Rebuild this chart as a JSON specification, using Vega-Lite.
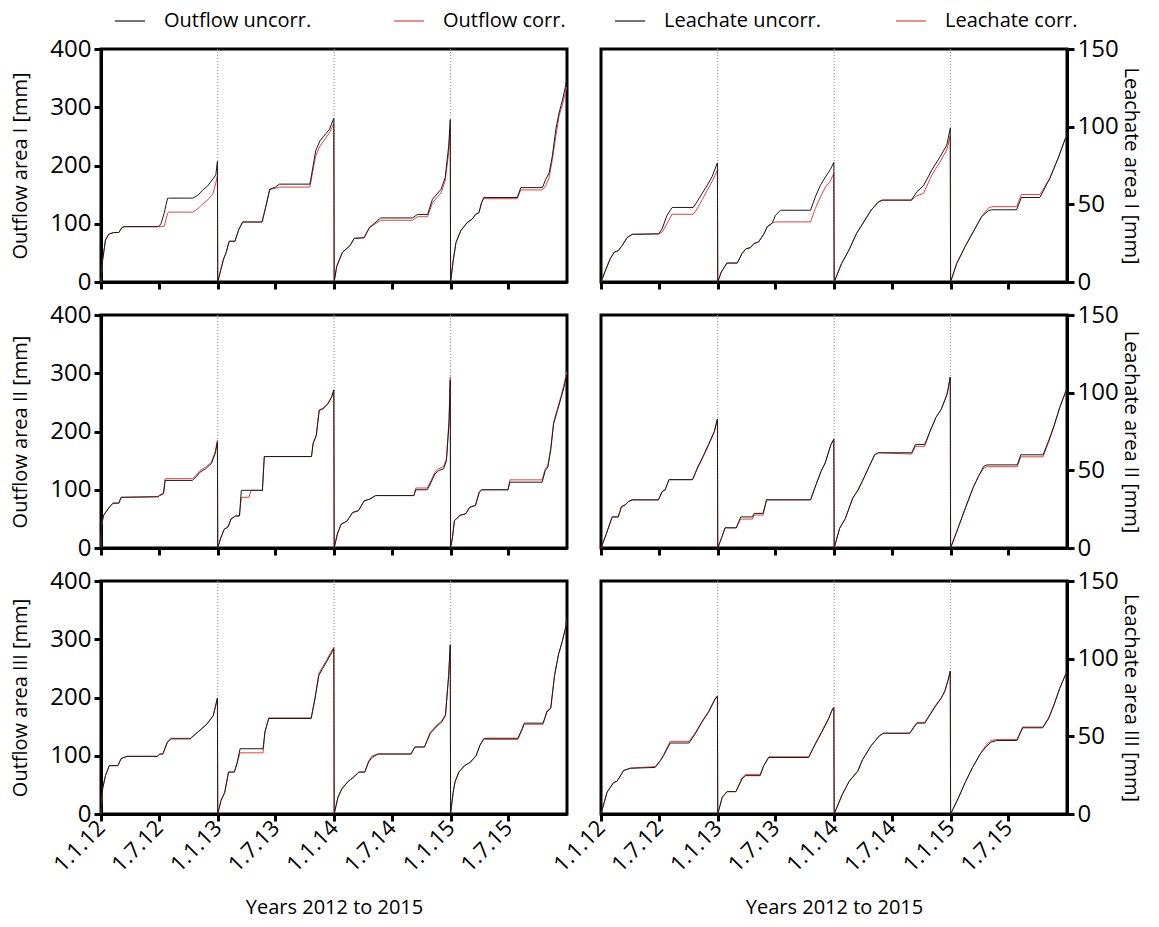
{
  "$schema": "https://vega.github.io/schema/vega-lite/v6.json",
  "background": "white",
  "padding": {"left": 9, "top": 3, "right": 6, "bottom": 5},
  "config": {
    "font": "Open Sans",
    "view": {"stroke": "black", "strokeWidth": 3},
    "axis": {"domainColor": "black", "domainWidth": 3, "tickColor": "black", "tickWidth": 3, "tickSize": 7, "labelColor": "black", "labelFont": "Open Sans", "labelFontSize": 24, "titleColor": "black", "titleFont": "Open Sans", "titleFontSize": 20, "titleFontWeight": "normal", "grid": false, "labelPadding": 3},
    "axisLeft": {"titlePadding": 19},
    "axisRight": {"titlePadding": 2},
    "axisX": {"labelFontSize": 22, "labelFlush": false, "labelOverlap": false},
    "legend": {"orient": "top", "direction": "horizontal", "symbolType": "stroke", "symbolSize": 900, "symbolStrokeWidth": 1.2, "symbolOffset": 13, "labelFont": "Open Sans", "labelFontSize": 20, "labelColor": "black", "labelOffset": 18, "labelLimit": 300, "offset": 18}
  },
  "datasets": {
    "years": [{"d": "2013-01-01"}, {"d": "2014-01-01"}, {"d": "2015-01-01"}],
    "OI": [
      {"d":"2012-01-01","u":0,"c":0},{"d":"2012-01-06","u":37,"c":37},{"d":"2012-01-15","u":72,"c":72},{"d":"2012-01-25","u":82,"c":82},{"d":"2012-02-10","u":85,"c":85},{"d":"2012-02-26","u":85,"c":85},{"d":"2012-03-06","u":93,"c":93},{"d":"2012-03-13","u":95,"c":95},{"d":"2012-06-29","u":95,"c":95},{"d":"2012-07-07","u":100,"c":95},{"d":"2012-07-18","u":120,"c":96},{"d":"2012-07-23","u":133,"c":109},{"d":"2012-07-28","u":144,"c":118},{"d":"2012-07-31","u":144,"c":120},{"d":"2012-10-15","u":144,"c":120},{"d":"2012-10-31","u":149,"c":126},{"d":"2012-11-15","u":158,"c":134},{"d":"2012-12-01","u":165,"c":141},{"d":"2012-12-17","u":177,"c":152},{"d":"2012-12-26","u":184,"c":170},{"d":"2012-12-31","u":207,"c":183},
      {"d":"2013-01-01","u":0,"c":0},{"d":"2013-01-11","u":22,"c":22},{"d":"2013-01-19","u":39,"c":39},{"d":"2013-01-27","u":50,"c":50},{"d":"2013-02-06","u":70,"c":70},{"d":"2013-02-24","u":70,"c":70},{"d":"2013-03-08","u":90,"c":90},{"d":"2013-03-20","u":103,"c":103},{"d":"2013-05-20","u":103,"c":103},{"d":"2013-06-01","u":130,"c":130},{"d":"2013-06-13","u":159,"c":159},{"d":"2013-07-01","u":163,"c":161},{"d":"2013-07-13","u":168,"c":163},{"d":"2013-10-17","u":168,"c":163},{"d":"2013-10-27","u":199,"c":193},{"d":"2013-11-04","u":225,"c":216},{"d":"2013-11-17","u":242,"c":233},{"d":"2013-11-29","u":250,"c":242},{"d":"2013-12-17","u":262,"c":256},{"d":"2013-12-31","u":281,"c":272},
      {"d":"2014-01-01","u":0,"c":0},{"d":"2014-01-09","u":27,"c":27},{"d":"2014-01-27","u":51,"c":51},{"d":"2014-02-19","u":62,"c":62},{"d":"2014-03-05","u":75,"c":75},{"d":"2014-04-05","u":76,"c":76},{"d":"2014-04-21","u":93,"c":93},{"d":"2014-05-27","u":110,"c":106},{"d":"2014-09-04","u":110,"c":106},{"d":"2014-09-19","u":116,"c":112},{"d":"2014-10-21","u":116,"c":112},{"d":"2014-11-05","u":142,"c":136},{"d":"2014-12-02","u":159,"c":153},{"d":"2014-12-15","u":179,"c":173},{"d":"2014-12-26","u":233,"c":222},{"d":"2014-12-31","u":279,"c":265},
      {"d":"2015-01-01","u":0,"c":0},{"d":"2015-01-09","u":36,"c":36},{"d":"2015-01-18","u":68,"c":68},{"d":"2015-02-02","u":88,"c":88},{"d":"2015-02-22","u":102,"c":102},{"d":"2015-03-10","u":108,"c":108},{"d":"2015-03-20","u":116,"c":116},{"d":"2015-03-31","u":119,"c":119},{"d":"2015-04-08","u":136,"c":136},{"d":"2015-04-15","u":145,"c":143},{"d":"2015-07-29","u":145,"c":143},{"d":"2015-08-09","u":162,"c":158},{"d":"2015-10-16","u":162,"c":158},{"d":"2015-10-26","u":176,"c":165},{"d":"2015-11-06","u":187,"c":179},{"d":"2015-11-16","u":216,"c":210},{"d":"2015-11-27","u":262,"c":250},{"d":"2015-12-07","u":290,"c":285},{"d":"2015-12-18","u":313,"c":305},{"d":"2015-12-28","u":338,"c":328},{"d":"2015-12-31","u":347,"c":335}
    ],
    "LI": [
      {"d":"2012-01-01","u":0,"c":0},{"d":"2012-01-15","u":7.5,"c":7.5},{"d":"2012-01-30","u":15,"c":15},{"d":"2012-02-12","u":19.3,"c":19.3},{"d":"2012-02-23","u":20,"c":20},{"d":"2012-03-08","u":23.6,"c":23.6},{"d":"2012-03-23","u":28.6,"c":28.6},{"d":"2012-04-08","u":30.7,"c":30.7},{"d":"2012-06-30","u":31,"c":31},{"d":"2012-07-11","u":34.4,"c":32.2},{"d":"2012-07-26","u":43,"c":37.6},{"d":"2012-08-11","u":48,"c":43.6},{"d":"2012-10-16","u":48,"c":43.6},{"d":"2012-10-28","u":51.6,"c":47},{"d":"2012-11-13","u":57,"c":53},{"d":"2012-11-29","u":62.3,"c":59},{"d":"2012-12-14","u":67.7,"c":64.5},{"d":"2012-12-31","u":76.7,"c":72},
      {"d":"2013-01-01","u":0,"c":0},{"d":"2013-01-12","u":6.4,"c":6.4},{"d":"2013-01-30","u":12.2,"c":12.2},{"d":"2013-03-03","u":12.2,"c":12.2},{"d":"2013-03-18","u":18.3,"c":18.3},{"d":"2013-03-31","u":21.5,"c":21.5},{"d":"2013-04-13","u":22,"c":22},{"d":"2013-04-24","u":24.7,"c":24.7},{"d":"2013-05-09","u":25.8,"c":25.8},{"d":"2013-05-26","u":31,"c":31},{"d":"2013-06-05","u":35.5,"c":35.5},{"d":"2013-06-21","u":38,"c":38},{"d":"2013-07-01","u":43,"c":38.7},{"d":"2013-07-17","u":46.2,"c":38.7},{"d":"2013-10-19","u":46.2,"c":38.7},{"d":"2013-11-03","u":54.8,"c":47.3},{"d":"2013-11-19","u":62.3,"c":54.8},{"d":"2013-12-05","u":67.7,"c":61.2},{"d":"2013-12-20","u":72.4,"c":65},{"d":"2013-12-31","u":77,"c":70},
      {"d":"2014-01-01","u":0,"c":0},{"d":"2014-01-24","u":11.8,"c":11.8},{"d":"2014-02-16","u":20.4,"c":20.4},{"d":"2014-03-12","u":31.2,"c":31.2},{"d":"2014-04-04","u":38.7,"c":38.7},{"d":"2014-04-27","u":46.3,"c":46.3},{"d":"2014-05-20","u":51.6,"c":51.6},{"d":"2014-06-01","u":52.7,"c":52.7},{"d":"2014-08-31","u":52.7,"c":52.7},{"d":"2014-09-17","u":58,"c":55.5},{"d":"2014-10-08","u":62,"c":57},{"d":"2014-11-03","u":72,"c":68.8},{"d":"2014-11-29","u":80.6,"c":77.4},{"d":"2014-12-20","u":88,"c":85},{"d":"2014-12-31","u":99,"c":94},
      {"d":"2015-01-01","u":0,"c":0},{"d":"2015-01-20","u":11.8,"c":11.8},{"d":"2015-02-15","u":22.6,"c":22.6},{"d":"2015-03-13","u":32.3,"c":32.3},{"d":"2015-04-08","u":42,"c":42},{"d":"2015-04-29","u":45.8,"c":47.5},{"d":"2015-05-10","u":46.5,"c":48.5},{"d":"2015-07-27","u":46.5,"c":48.5},{"d":"2015-08-11","u":54.4,"c":56.3},{"d":"2015-10-08","u":54.4,"c":56.3},{"d":"2015-11-08","u":66.7,"c":66.7},{"d":"2015-12-04","u":79.6,"c":79.6},{"d":"2015-12-27","u":92.5,"c":92.5},{"d":"2015-12-31","u":93.5,"c":93.5}
    ],
    "OII": [
      {"d":"2012-01-01","u":0,"c":0},{"d":"2012-01-03","u":40,"c":40},{"d":"2012-01-09","u":56,"c":56},{"d":"2012-01-27","u":70,"c":70},{"d":"2012-02-08","u":77,"c":77},{"d":"2012-02-26","u":77,"c":77},{"d":"2012-03-04","u":87,"c":87},{"d":"2012-06-27","u":88,"c":88},{"d":"2012-07-03","u":90,"c":91},{"d":"2012-07-15","u":93,"c":95},{"d":"2012-07-20","u":116,"c":119},{"d":"2012-10-13","u":116,"c":119},{"d":"2012-10-25","u":122,"c":125},{"d":"2012-11-06","u":130,"c":133},{"d":"2012-11-24","u":136,"c":139},{"d":"2012-12-12","u":145,"c":147},{"d":"2012-12-24","u":162,"c":165},{"d":"2012-12-31","u":182,"c":185},
      {"d":"2013-01-01","u":0,"c":0},{"d":"2013-01-09","u":15,"c":15},{"d":"2013-01-21","u":32,"c":32},{"d":"2013-02-02","u":36,"c":36},{"d":"2013-02-12","u":50,"c":50},{"d":"2013-02-26","u":55,"c":55},{"d":"2013-03-10","u":55,"c":55},{"d":"2013-03-16","u":99,"c":87},{"d":"2013-04-09","u":99,"c":87},{"d":"2013-04-15","u":99,"c":99},{"d":"2013-05-21","u":99,"c":99},{"d":"2013-05-27","u":157,"c":157},{"d":"2013-10-22","u":157,"c":157},{"d":"2013-10-27","u":179,"c":180},{"d":"2013-11-06","u":193,"c":194},{"d":"2013-11-15","u":236,"c":237},{"d":"2013-11-27","u":239,"c":240},{"d":"2013-12-12","u":247,"c":248},{"d":"2013-12-24","u":259,"c":260},{"d":"2013-12-31","u":271,"c":272},
      {"d":"2014-01-01","u":0,"c":0},{"d":"2014-01-11","u":24,"c":24},{"d":"2014-01-23","u":41,"c":41},{"d":"2014-02-10","u":46,"c":46},{"d":"2014-02-28","u":61,"c":61},{"d":"2014-03-18","u":64,"c":64},{"d":"2014-04-05","u":81,"c":81},{"d":"2014-04-23","u":84,"c":84},{"d":"2014-05-11","u":90,"c":90},{"d":"2014-09-08","u":90,"c":90},{"d":"2014-09-14","u":100,"c":103},{"d":"2014-10-20","u":100,"c":103},{"d":"2014-11-01","u":113,"c":116},{"d":"2014-11-13","u":127,"c":130},{"d":"2014-11-25","u":133,"c":136},{"d":"2014-12-10","u":136,"c":140},{"d":"2014-12-19","u":150,"c":153},{"d":"2014-12-27","u":213,"c":219},{"d":"2014-12-31","u":288,"c":294},
      {"d":"2015-01-01","u":0,"c":0},{"d":"2015-01-07","u":18,"c":18},{"d":"2015-01-13","u":47,"c":47},{"d":"2015-01-31","u":56,"c":56},{"d":"2015-02-18","u":59,"c":59},{"d":"2015-03-02","u":70,"c":70},{"d":"2015-03-20","u":73,"c":73},{"d":"2015-04-01","u":96,"c":96},{"d":"2015-04-09","u":100,"c":100},{"d":"2015-06-30","u":100,"c":100},{"d":"2015-07-06","u":113,"c":117},{"d":"2015-10-15","u":113,"c":117},{"d":"2015-10-25","u":133,"c":136},{"d":"2015-11-02","u":139,"c":142},{"d":"2015-11-11","u":168,"c":171},{"d":"2015-11-20","u":213,"c":216},{"d":"2015-12-02","u":236,"c":239},{"d":"2015-12-14","u":259,"c":262},{"d":"2015-12-23","u":277,"c":282},{"d":"2015-12-31","u":297,"c":302}
    ],
    "LII": [
      {"d":"2012-01-01","u":0,"c":0},{"d":"2012-01-18","u":9.3,"c":9.3},{"d":"2012-02-05","u":20,"c":20},{"d":"2012-02-24","u":20,"c":20},{"d":"2012-03-05","u":26.6,"c":26.6},{"d":"2012-03-16","u":27.7,"c":27.7},{"d":"2012-03-28","u":30,"c":30},{"d":"2012-04-08","u":31,"c":31},{"d":"2012-06-29","u":31,"c":31},{"d":"2012-07-11","u":36.4,"c":36.4},{"d":"2012-07-20","u":37.4,"c":37.4},{"d":"2012-08-01","u":44,"c":44},{"d":"2012-10-14","u":44,"c":44},{"d":"2012-10-29","u":51.5,"c":51},{"d":"2012-11-16","u":59,"c":58.5},{"d":"2012-12-03","u":66.7,"c":66},{"d":"2012-12-21","u":75,"c":74.5},{"d":"2012-12-31","u":83,"c":83},
      {"d":"2013-01-01","u":0,"c":0},{"d":"2013-01-13","u":6.5,"c":6.5},{"d":"2013-01-24","u":13,"c":13},{"d":"2013-02-28","u":13,"c":13},{"d":"2013-03-14","u":20,"c":18.6},{"d":"2013-04-20","u":20,"c":18.6},{"d":"2013-04-25","u":22.3,"c":21.2},{"d":"2013-05-23","u":22.3,"c":21.2},{"d":"2013-06-03","u":31,"c":31},{"d":"2013-10-19","u":31,"c":31},{"d":"2013-11-05","u":40.7,"c":40.7},{"d":"2013-11-21","u":49.4,"c":49.4},{"d":"2013-12-04","u":54.8,"c":54.8},{"d":"2013-12-22","u":66.7,"c":66.7},{"d":"2013-12-31","u":70,"c":70},
      {"d":"2014-01-01","u":0,"c":0},{"d":"2014-01-18","u":12.6,"c":12.6},{"d":"2014-02-05","u":19,"c":19},{"d":"2014-02-28","u":32,"c":32},{"d":"2014-03-17","u":37.4,"c":37.4},{"d":"2014-04-04","u":45,"c":45},{"d":"2014-04-21","u":52.6,"c":52.6},{"d":"2014-05-08","u":60,"c":60},{"d":"2014-05-20","u":61.3,"c":61.3},{"d":"2014-09-01","u":61.3,"c":60.5},{"d":"2014-09-13","u":66.7,"c":65.5},{"d":"2014-10-12","u":66.7,"c":65.5},{"d":"2014-10-29","u":75.3,"c":75.3},{"d":"2014-11-16","u":84,"c":84},{"d":"2014-12-03","u":89.4,"c":89.4},{"d":"2014-12-21","u":99,"c":99},{"d":"2014-12-31","u":110,"c":110},
      {"d":"2015-01-01","u":0,"c":0},{"d":"2015-01-24","u":12.6,"c":12.6},{"d":"2015-02-16","u":25.5,"c":25.5},{"d":"2015-03-12","u":38.5,"c":38.5},{"d":"2015-03-29","u":46,"c":46},{"d":"2015-04-15","u":52.6,"c":51.5},{"d":"2015-04-25","u":53.5,"c":52.3},{"d":"2015-07-29","u":53.5,"c":52.3},{"d":"2015-08-09","u":60,"c":58.7},{"d":"2015-10-18","u":60,"c":58.7},{"d":"2015-11-04","u":68.8,"c":68},{"d":"2015-11-21","u":78.6,"c":78},{"d":"2015-12-09","u":90.5,"c":90},{"d":"2015-12-31","u":102.4,"c":102.4}
    ],
    "OIII": [
      {"d":"2012-01-01","u":0,"c":0},{"d":"2012-01-06","u":43,"c":43},{"d":"2012-01-15","u":66,"c":66},{"d":"2012-01-27","u":83,"c":83},{"d":"2012-02-23","u":83,"c":83},{"d":"2012-03-04","u":95,"c":95},{"d":"2012-03-22","u":99,"c":99},{"d":"2012-06-26","u":99,"c":99},{"d":"2012-07-03","u":103,"c":103},{"d":"2012-07-13","u":103,"c":103},{"d":"2012-07-27","u":123,"c":124},{"d":"2012-08-08","u":129,"c":130},{"d":"2012-10-07","u":129,"c":130},{"d":"2012-10-25","u":138,"c":138},{"d":"2012-11-11","u":146,"c":146},{"d":"2012-11-29","u":155,"c":155},{"d":"2012-12-18","u":169,"c":169},{"d":"2012-12-31","u":199,"c":199},
      {"d":"2013-01-01","u":0,"c":0},{"d":"2013-01-11","u":23,"c":23},{"d":"2013-01-23","u":37,"c":37},{"d":"2013-01-29","u":55,"c":55},{"d":"2013-02-04","u":72,"c":72},{"d":"2013-02-22","u":72,"c":72},{"d":"2013-03-02","u":86,"c":86},{"d":"2013-03-12","u":112,"c":105},{"d":"2013-05-23","u":112,"c":105},{"d":"2013-05-29","u":141,"c":141},{"d":"2013-06-10","u":164,"c":165},{"d":"2013-10-21","u":164,"c":165},{"d":"2013-11-02","u":198,"c":200},{"d":"2013-11-14","u":238,"c":241},{"d":"2013-11-26","u":250,"c":253},{"d":"2013-12-08","u":261,"c":264},{"d":"2013-12-20","u":273,"c":276},{"d":"2013-12-31","u":284,"c":286},
      {"d":"2014-01-01","u":0,"c":0},{"d":"2014-01-13","u":29,"c":29},{"d":"2014-01-25","u":43,"c":43},{"d":"2014-02-12","u":55,"c":55},{"d":"2014-03-02","u":63,"c":63},{"d":"2014-03-20","u":72,"c":72},{"d":"2014-04-07","u":72,"c":72},{"d":"2014-04-19","u":89,"c":91},{"d":"2014-05-01","u":98,"c":100},{"d":"2014-05-19","u":103,"c":103},{"d":"2014-08-30","u":103,"c":103},{"d":"2014-09-11","u":115,"c":115},{"d":"2014-10-11","u":115,"c":115},{"d":"2014-10-29","u":138,"c":140},{"d":"2014-11-16","u":149,"c":151},{"d":"2014-12-04","u":158,"c":160},{"d":"2014-12-16","u":169,"c":171},{"d":"2014-12-26","u":238,"c":238},{"d":"2014-12-31","u":290,"c":290},
      {"d":"2015-01-01","u":0,"c":0},{"d":"2015-01-09","u":37,"c":37},{"d":"2015-01-15","u":55,"c":55},{"d":"2015-01-27","u":72,"c":72},{"d":"2015-02-14","u":83,"c":83},{"d":"2015-03-04","u":89,"c":89},{"d":"2015-03-22","u":100,"c":100},{"d":"2015-04-03","u":118,"c":118},{"d":"2015-04-15","u":129,"c":129},{"d":"2015-04-25","u":130,"c":128},{"d":"2015-07-31","u":130,"c":128},{"d":"2015-08-13","u":146,"c":144},{"d":"2015-08-20","u":156,"c":154},{"d":"2015-10-18","u":156,"c":154},{"d":"2015-10-30","u":175,"c":177},{"d":"2015-11-11","u":181,"c":182},{"d":"2015-11-23","u":238,"c":238},{"d":"2015-12-05","u":273,"c":273},{"d":"2015-12-17","u":296,"c":296},{"d":"2015-12-28","u":321,"c":321},{"d":"2015-12-31","u":336,"c":336}
    ],
    "LIII": [
      {"d":"2012-01-01","u":0,"c":0},{"d":"2012-01-20","u":14,"c":14},{"d":"2012-02-10","u":20.4,"c":20.4},{"d":"2012-02-20","u":21,"c":21},{"d":"2012-03-12","u":28,"c":28},{"d":"2012-04-02","u":29.4,"c":29.6},{"d":"2012-06-19","u":30,"c":30.5},{"d":"2012-07-05","u":34.3,"c":34.5},{"d":"2012-07-15","u":37.5,"c":38},{"d":"2012-08-05","u":45.7,"c":46.8},{"d":"2012-10-03","u":45.7,"c":46.8},{"d":"2012-10-22","u":51.5,"c":52},{"d":"2012-11-12","u":59,"c":59.5},{"d":"2012-12-03","u":65.5,"c":66},{"d":"2012-12-24","u":74,"c":74.5},{"d":"2012-12-31","u":75.8,"c":76},
      {"d":"2013-01-01","u":0,"c":0},{"d":"2013-01-15","u":10.7,"c":10.7},{"d":"2013-01-30","u":14.4,"c":14.4},{"d":"2013-02-27","u":14.4,"c":14.4},{"d":"2013-03-18","u":22.5,"c":23.3},{"d":"2013-03-29","u":24.7,"c":25.5},{"d":"2013-05-14","u":24.7,"c":25.5},{"d":"2013-05-25","u":31,"c":31},{"d":"2013-06-10","u":36.4,"c":36.8},{"d":"2013-10-13","u":36.4,"c":36.8},{"d":"2013-11-03","u":45,"c":45.4},{"d":"2013-11-23","u":52.6,"c":53.2},{"d":"2013-12-14","u":61,"c":61.5},{"d":"2013-12-27","u":67.6,"c":67.6},{"d":"2013-12-31","u":68.5,"c":68.5},
      {"d":"2014-01-01","u":0,"c":0},{"d":"2014-01-26","u":12.4,"c":12.4},{"d":"2014-02-17","u":21,"c":21},{"d":"2014-03-16","u":27.6,"c":27.6},{"d":"2014-03-31","u":35,"c":35},{"d":"2014-04-27","u":44,"c":44},{"d":"2014-05-23","u":50.4,"c":50.4},{"d":"2014-06-05","u":52,"c":52},{"d":"2014-08-26","u":52,"c":52},{"d":"2014-09-07","u":55.5,"c":56},{"d":"2014-09-18","u":58.5,"c":59},{"d":"2014-10-12","u":58.5,"c":59},{"d":"2014-10-29","u":64,"c":64.5},{"d":"2014-11-15","u":69.5,"c":70},{"d":"2014-12-03","u":74.7,"c":75},{"d":"2014-12-14","u":79,"c":79.3},{"d":"2014-12-24","u":86,"c":86},{"d":"2014-12-31","u":92,"c":92},
      {"d":"2015-01-01","u":0,"c":0},{"d":"2015-01-24","u":9.7,"c":9.7},{"d":"2015-02-16","u":20.4,"c":20.4},{"d":"2015-03-11","u":30,"c":30},{"d":"2015-04-04","u":38.7,"c":38.7},{"d":"2015-04-21","u":43,"c":44},{"d":"2015-05-08","u":46.3,"c":47.3},{"d":"2015-05-26","u":47.3,"c":48},{"d":"2015-07-28","u":47.3,"c":48},{"d":"2015-08-15","u":55.5,"c":56},{"d":"2015-10-17","u":55.5,"c":56},{"d":"2015-11-04","u":61.3,"c":61.8},{"d":"2015-11-21","u":70,"c":70.5},{"d":"2015-12-09","u":80.7,"c":81},{"d":"2015-12-31","u":91.5,"c":91.5}
    ]
  },
  "vconcat": [
    {
      "hconcat": [
        {
          "width": 466, "height": 233,
          "layer": [
            {"data": {"name": "years"}, "mark": {"type": "rule", "color": "#8c8c8c", "strokeWidth": 1, "strokeDash": [1, 2]},
             "encoding": {"x": {"field": "d", "type": "temporal", "scale": {"type": "utc", "domain": [{"year": 2012, "month": 1, "date": 1, "utc": true}, {"year": 2016, "month": 1, "date": 1, "utc": true}]}, "axis": {"title": null, "labels": false, "values": [{"year": 2012, "month": 1, "date": 1, "utc": true}, {"year": 2012, "month": 7, "date": 1, "utc": true}, {"year": 2013, "month": 1, "date": 1, "utc": true}, {"year": 2013, "month": 7, "date": 1, "utc": true}, {"year": 2014, "month": 1, "date": 1, "utc": true}, {"year": 2014, "month": 7, "date": 1, "utc": true}, {"year": 2015, "month": 1, "date": 1, "utc": true}, {"year": 2015, "month": 7, "date": 1, "utc": true}]}}}},
            {"data": {"name": "OI"}, "mark": {"type": "line", "strokeWidth": 1},
             "encoding": {"x": {"field": "d", "type": "temporal"}, "y": {"field": "c", "type": "quantitative", "scale": {"domain": [0, 400], "nice": false}, "axis": {"title": "Outflow area I [mm]", "values": [0, 100, 200, 300, 400]}},
               "color": {"datum": "c", "scale": {"domain": ["u", "c"], "range": ["#1a1a1a", "#e8413c"]}, "legend": {"title": null, "columnPadding": 68, "labelExpr": "datum.value == 'u' ? 'Outflow uncorr.' : 'Outflow corr.'"}}}},
            {"data": {"name": "OI"}, "mark": {"type": "line", "strokeWidth": 1},
             "encoding": {"x": {"field": "d", "type": "temporal"}, "y": {"field": "u", "type": "quantitative", "axis": {"title": "Outflow area I [mm]", "values": [0, 100, 200, 300, 400]}},
               "color": {"datum": "u"}}}
          ]
        },
        {
          "width": 466, "height": 233,
          "layer": [
            {"data": {"name": "years"}, "mark": {"type": "rule", "color": "#8c8c8c", "strokeWidth": 1, "strokeDash": [1, 2]},
             "encoding": {"x": {"field": "d", "type": "temporal", "scale": {"type": "utc", "domain": [{"year": 2012, "month": 1, "date": 1, "utc": true}, {"year": 2016, "month": 1, "date": 1, "utc": true}]}, "axis": {"title": null, "labels": false, "values": [{"year": 2012, "month": 1, "date": 1, "utc": true}, {"year": 2012, "month": 7, "date": 1, "utc": true}, {"year": 2013, "month": 1, "date": 1, "utc": true}, {"year": 2013, "month": 7, "date": 1, "utc": true}, {"year": 2014, "month": 1, "date": 1, "utc": true}, {"year": 2014, "month": 7, "date": 1, "utc": true}, {"year": 2015, "month": 1, "date": 1, "utc": true}, {"year": 2015, "month": 7, "date": 1, "utc": true}]}}}},
            {"data": {"name": "LI"}, "mark": {"type": "line", "strokeWidth": 1},
             "encoding": {"x": {"field": "d", "type": "temporal"}, "y": {"field": "c", "type": "quantitative", "scale": {"domain": [0, 150], "nice": false}, "axis": {"orient": "right", "title": "Leachate area I [mm]", "values": [0, 50, 100, 150]}},
               "color": {"datum": "c", "scale": {"domain": ["u", "c"], "range": ["#1a1a1a", "#e8413c"]}, "legend": {"title": null, "columnPadding": 60, "labelExpr": "datum.value == 'u' ? 'Leachate uncorr.' : 'Leachate corr.'"}}}},
            {"data": {"name": "LI"}, "mark": {"type": "line", "strokeWidth": 1},
             "encoding": {"x": {"field": "d", "type": "temporal"}, "y": {"field": "u", "type": "quantitative", "axis": {"orient": "right", "title": "Leachate area I [mm]", "values": [0, 50, 100, 150]}},
               "color": {"datum": "u"}}}
          ]
        }
      ],
      "spacing": 34,
      "bounds": "flush",
      "resolve": {"scale": {"color": "independent"}}
    },
    {
      "hconcat": [
        {
          "width": 466, "height": 233,
          "layer": [
            {"data": {"name": "years"}, "mark": {"type": "rule", "color": "#8c8c8c", "strokeWidth": 1, "strokeDash": [1, 2]},
             "encoding": {"x": {"field": "d", "type": "temporal", "scale": {"type": "utc", "domain": [{"year": 2012, "month": 1, "date": 1, "utc": true}, {"year": 2016, "month": 1, "date": 1, "utc": true}]}, "axis": {"title": null, "labels": false, "values": [{"year": 2012, "month": 1, "date": 1, "utc": true}, {"year": 2012, "month": 7, "date": 1, "utc": true}, {"year": 2013, "month": 1, "date": 1, "utc": true}, {"year": 2013, "month": 7, "date": 1, "utc": true}, {"year": 2014, "month": 1, "date": 1, "utc": true}, {"year": 2014, "month": 7, "date": 1, "utc": true}, {"year": 2015, "month": 1, "date": 1, "utc": true}, {"year": 2015, "month": 7, "date": 1, "utc": true}]}}}},
            {"data": {"name": "OII"}, "mark": {"type": "line", "strokeWidth": 1, "color": "#e8413c"},
             "encoding": {"x": {"field": "d", "type": "temporal"}, "y": {"field": "c", "type": "quantitative", "scale": {"domain": [0, 400], "nice": false}, "axis": {"title": "Outflow area II [mm]", "values": [0, 100, 200, 300, 400]}}}},
            {"data": {"name": "OII"}, "mark": {"type": "line", "strokeWidth": 1, "color": "#1a1a1a"},
             "encoding": {"x": {"field": "d", "type": "temporal"}, "y": {"field": "u", "type": "quantitative", "axis": {"title": "Outflow area II [mm]", "values": [0, 100, 200, 300, 400]}}}}
          ]
        },
        {
          "width": 466, "height": 233,
          "layer": [
            {"data": {"name": "years"}, "mark": {"type": "rule", "color": "#8c8c8c", "strokeWidth": 1, "strokeDash": [1, 2]},
             "encoding": {"x": {"field": "d", "type": "temporal", "scale": {"type": "utc", "domain": [{"year": 2012, "month": 1, "date": 1, "utc": true}, {"year": 2016, "month": 1, "date": 1, "utc": true}]}, "axis": {"title": null, "labels": false, "values": [{"year": 2012, "month": 1, "date": 1, "utc": true}, {"year": 2012, "month": 7, "date": 1, "utc": true}, {"year": 2013, "month": 1, "date": 1, "utc": true}, {"year": 2013, "month": 7, "date": 1, "utc": true}, {"year": 2014, "month": 1, "date": 1, "utc": true}, {"year": 2014, "month": 7, "date": 1, "utc": true}, {"year": 2015, "month": 1, "date": 1, "utc": true}, {"year": 2015, "month": 7, "date": 1, "utc": true}]}}}},
            {"data": {"name": "LII"}, "mark": {"type": "line", "strokeWidth": 1, "color": "#e8413c"},
             "encoding": {"x": {"field": "d", "type": "temporal"}, "y": {"field": "c", "type": "quantitative", "scale": {"domain": [0, 150], "nice": false}, "axis": {"orient": "right", "title": "Leachate area II [mm]", "values": [0, 50, 100, 150]}}}},
            {"data": {"name": "LII"}, "mark": {"type": "line", "strokeWidth": 1, "color": "#1a1a1a"},
             "encoding": {"x": {"field": "d", "type": "temporal"}, "y": {"field": "u", "type": "quantitative", "axis": {"orient": "right", "title": "Leachate area II [mm]", "values": [0, 50, 100, 150]}}}}
          ]
        }
      ],
      "spacing": 34,
      "bounds": "flush"
    },
    {
      "hconcat": [
        {
          "width": 466, "height": 233,
          "layer": [
            {"data": {"name": "years"}, "mark": {"type": "rule", "color": "#8c8c8c", "strokeWidth": 1, "strokeDash": [1, 2]},
             "encoding": {"x": {"field": "d", "type": "temporal", "scale": {"type": "utc", "domain": [{"year": 2012, "month": 1, "date": 1, "utc": true}, {"year": 2016, "month": 1, "date": 1, "utc": true}]}, "axis": {"title": "Years 2012 to 2015", "format": "%-d.%-m.%y", "labelAngle": -45, "labelAlign": "right", "labelBaseline": "middle", "titlePadding": 22, "values": [{"year": 2012, "month": 1, "date": 1, "utc": true}, {"year": 2012, "month": 7, "date": 1, "utc": true}, {"year": 2013, "month": 1, "date": 1, "utc": true}, {"year": 2013, "month": 7, "date": 1, "utc": true}, {"year": 2014, "month": 1, "date": 1, "utc": true}, {"year": 2014, "month": 7, "date": 1, "utc": true}, {"year": 2015, "month": 1, "date": 1, "utc": true}, {"year": 2015, "month": 7, "date": 1, "utc": true}]}}}},
            {"data": {"name": "OIII"}, "mark": {"type": "line", "strokeWidth": 1, "color": "#e8413c"},
             "encoding": {"x": {"field": "d", "type": "temporal"}, "y": {"field": "c", "type": "quantitative", "scale": {"domain": [0, 400], "nice": false}, "axis": {"title": "Outflow area III [mm]", "values": [0, 100, 200, 300, 400]}}}},
            {"data": {"name": "OIII"}, "mark": {"type": "line", "strokeWidth": 1, "color": "#1a1a1a"},
             "encoding": {"x": {"field": "d", "type": "temporal"}, "y": {"field": "u", "type": "quantitative", "axis": {"title": "Outflow area III [mm]", "values": [0, 100, 200, 300, 400]}}}}
          ]
        },
        {
          "width": 466, "height": 233,
          "layer": [
            {"data": {"name": "years"}, "mark": {"type": "rule", "color": "#8c8c8c", "strokeWidth": 1, "strokeDash": [1, 2]},
             "encoding": {"x": {"field": "d", "type": "temporal", "scale": {"type": "utc", "domain": [{"year": 2012, "month": 1, "date": 1, "utc": true}, {"year": 2016, "month": 1, "date": 1, "utc": true}]}, "axis": {"title": "Years 2012 to 2015", "format": "%-d.%-m.%y", "labelAngle": -45, "labelAlign": "right", "labelBaseline": "middle", "titlePadding": 22, "values": [{"year": 2012, "month": 1, "date": 1, "utc": true}, {"year": 2012, "month": 7, "date": 1, "utc": true}, {"year": 2013, "month": 1, "date": 1, "utc": true}, {"year": 2013, "month": 7, "date": 1, "utc": true}, {"year": 2014, "month": 1, "date": 1, "utc": true}, {"year": 2014, "month": 7, "date": 1, "utc": true}, {"year": 2015, "month": 1, "date": 1, "utc": true}, {"year": 2015, "month": 7, "date": 1, "utc": true}]}}}},
            {"data": {"name": "LIII"}, "mark": {"type": "line", "strokeWidth": 1, "color": "#e8413c"},
             "encoding": {"x": {"field": "d", "type": "temporal"}, "y": {"field": "c", "type": "quantitative", "scale": {"domain": [0, 150], "nice": false}, "axis": {"orient": "right", "title": "Leachate area III [mm]", "values": [0, 50, 100, 150]}}}},
            {"data": {"name": "LIII"}, "mark": {"type": "line", "strokeWidth": 1, "color": "#1a1a1a"},
             "encoding": {"x": {"field": "d", "type": "temporal"}, "y": {"field": "u", "type": "quantitative", "axis": {"orient": "right", "title": "Leachate area III [mm]", "values": [0, 50, 100, 150]}}}}
          ]
        }
      ],
      "spacing": 34,
      "bounds": "flush"
    }
  ],
  "spacing": 5
}
